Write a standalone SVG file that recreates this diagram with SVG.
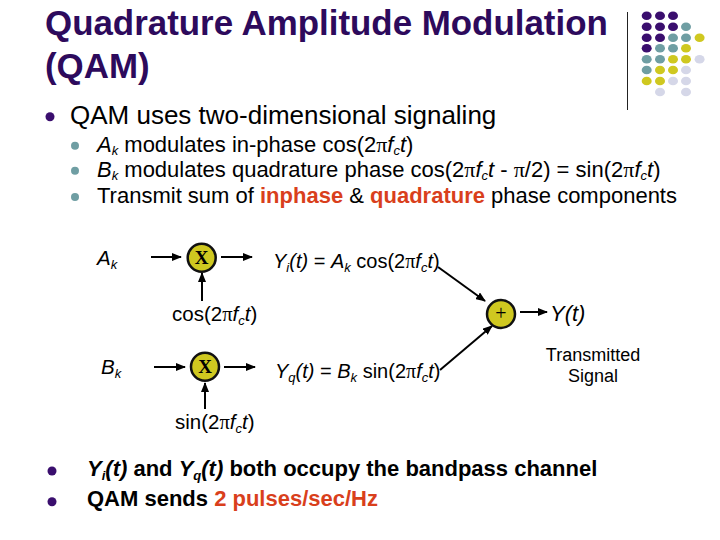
<svg xmlns="http://www.w3.org/2000/svg" width="720" height="540" viewBox="0 0 720 540">
<style>
text{font-family:"Liberation Sans",Arial,sans-serif;fill:#000}
.title{font-size:34.9px;font-weight:700;fill:#2d0a5c}
.l1{font-size:26px}
.l2{font-size:22px}
.d{font-size:20.5px}
.e{font-size:20px}
.b{font-size:22px;font-weight:700}
.r{fill:#d93f1c;font-weight:700}
.i{font-style:italic}
.p{font-family:"Liberation Serif",serif}
.s{font-size:13px;font-style:italic}
.pu{fill:#3a0e6e}.te{fill:#6f9ea3}.ye{fill:#cfc820}.la{fill:#d5d7e8}
.n{fill:#cfc820;stroke:#111;stroke-width:2.5}
.nx{font-family:"Liberation Serif",serif;font-size:19px;font-weight:700;text-anchor:middle}
.c{stroke:#000;stroke-width:2;fill:none;marker-end:url(#a)}
</style>
<defs>
<marker id="a" markerUnits="userSpaceOnUse" markerWidth="10" markerHeight="8" refX="9" refY="4" orient="auto"><path d="M0 0L10 4L0 8Z" fill="#000"/></marker>
</defs>
<rect width="720" height="540" fill="#fff"/>
<text class="title" x="45" y="35">Quadrature Amplitude Modulation</text>
<text class="title" x="45" y="78">(QAM)</text>
<path d="M627.5 12V110" stroke="#222" stroke-width="1"/>
<g id="dots">
<g class="pu"><ellipse cx="646.7" cy="15.7" rx="5" ry="4.3"/><ellipse cx="660" cy="15.7" rx="5" ry="4.3"/><ellipse cx="673" cy="15.7" rx="5" ry="4.3"/><ellipse cx="646.7" cy="26.7" rx="5" ry="4.3"/><ellipse cx="660" cy="26.7" rx="5" ry="4.3"/><ellipse cx="673" cy="26.7" rx="5" ry="4.3"/><ellipse cx="646.7" cy="37.7" rx="5" ry="4.3"/><ellipse cx="660" cy="37.7" rx="5" ry="4.3"/><ellipse cx="646.7" cy="48.3" rx="5" ry="4.3"/></g>
<g class="te"><ellipse cx="686" cy="26.7" rx="5" ry="4.3"/><ellipse cx="673" cy="37.7" rx="5" ry="4.3"/><ellipse cx="686" cy="37.7" rx="5" ry="4.3"/><ellipse cx="660" cy="48.3" rx="5" ry="4.3"/><ellipse cx="673" cy="48.3" rx="5" ry="4.3"/><ellipse cx="646.7" cy="59.3" rx="5" ry="4.3"/><ellipse cx="660" cy="59.3" rx="5" ry="4.3"/><ellipse cx="646.7" cy="70" rx="5" ry="4.3"/></g>
<g class="ye"><ellipse cx="699.6" cy="37.7" rx="5" ry="4.3"/><ellipse cx="686" cy="48.3" rx="5" ry="4.3"/><ellipse cx="673" cy="59.3" rx="5" ry="4.3"/><ellipse cx="686" cy="59.3" rx="5" ry="4.3"/><ellipse cx="660" cy="70" rx="5" ry="4.3"/><ellipse cx="673" cy="70" rx="5" ry="4.3"/><ellipse cx="646.7" cy="81" rx="5" ry="4.3"/><ellipse cx="660" cy="81" rx="5" ry="4.3"/></g>
<g class="la"><ellipse cx="699.6" cy="59.3" rx="5" ry="4.3"/><ellipse cx="686" cy="70" rx="5" ry="4.3"/><ellipse cx="673" cy="81" rx="5" ry="4.3"/><ellipse cx="686" cy="81" rx="5" ry="4.3"/><ellipse cx="660" cy="92" rx="5" ry="4.3"/><ellipse cx="686" cy="92" rx="5" ry="4.3"/></g>
</g>
<g id="bullets">
<circle class="pu" cx="50" cy="116.7" r="4.5"/>
<circle class="te" cx="75" cy="145.7" r="4"/><circle class="te" cx="75" cy="170.7" r="4"/><circle class="te" cx="75" cy="197" r="4"/>
<circle class="pu" cx="52" cy="471" r="4.5"/><circle class="pu" cx="52" cy="501.7" r="4.5"/>
</g>
<text class="l1" x="70" y="124">QAM uses two-dimensional signaling</text>
<text class="l2" x="97" y="152"><tspan class="i">A</tspan><tspan class="s" dy="3">k</tspan><tspan dy="-3"> modulates in-phase cos(2</tspan><tspan class="p">π</tspan><tspan class="i">f</tspan><tspan class="s" dy="3">c</tspan><tspan class="i" dy="-3">t</tspan>)</text>
<text class="l2" x="97" y="177"><tspan class="i">B</tspan><tspan class="s" dy="3">k</tspan><tspan dy="-3"> modulates quadrature phase cos(2</tspan><tspan class="p">π</tspan><tspan class="i">f</tspan><tspan class="s" dy="3">c</tspan><tspan class="i" dy="-3">t</tspan> - <tspan class="p">π</tspan>/2) = sin(2<tspan class="p">π</tspan><tspan class="i">f</tspan><tspan class="s" dy="3">c</tspan><tspan class="i" dy="-3">t</tspan>)</text>
<text class="l2" x="97" y="203">Transmit sum of <tspan class="r">inphase</tspan> &amp; <tspan class="r">quadrature</tspan> phase components</text>
<g id="connectors">
<path class="c" d="M151 257H181"/><path class="c" d="M221 257H252"/><path class="c" d="M202 301V273"/>
<path class="c" d="M154 367H185"/><path class="c" d="M224 367H255"/><path class="c" d="M205 409V383"/>
<path class="c" d="M438 267L485 301"/><path class="c" d="M440 370L492 326"/><path class="c" d="M520 312H547"/>
</g>
<g id="mul1"><circle class="n" cx="201.7" cy="257.7" r="14"/><text class="nx" x="201.7" y="264">X</text></g>
<g id="mul2"><circle class="n" cx="205" cy="366.7" r="14"/><text class="nx" x="205" y="373">X</text></g>
<g id="sum"><circle class="n" cx="501" cy="314" r="14"/><text class="p" x="501" y="320" text-anchor="middle" font-size="20">+</text></g>
<text class="d" x="97" y="265"><tspan class="i">A</tspan><tspan class="s" dy="4">k</tspan></text>
<text class="d" x="101" y="374"><tspan class="i">B</tspan><tspan class="s" dy="4">k</tspan></text>
<text class="e" x="273" y="268"><tspan class="i">Y</tspan><tspan class="s" dy="4">i</tspan><tspan class="i" dy="-4">(t)</tspan> = <tspan class="i">A</tspan><tspan class="s" dy="4">k</tspan><tspan dy="-4"> cos(2</tspan><tspan class="p">π</tspan><tspan class="i">f</tspan><tspan class="s" dy="4">c</tspan><tspan class="i" dy="-4">t</tspan>)</text>
<text class="e" x="275" y="378"><tspan class="i">Y</tspan><tspan class="s" dy="4">q</tspan><tspan class="i" dy="-4">(t)</tspan> = <tspan class="i">B</tspan><tspan class="s" dy="4">k</tspan><tspan dy="-4"> sin(2</tspan><tspan class="p">π</tspan><tspan class="i">f</tspan><tspan class="s" dy="4">c</tspan><tspan class="i" dy="-4">t</tspan>)</text>
<text class="d" x="172" y="321">cos(2<tspan class="p">π</tspan><tspan class="i">f</tspan><tspan class="s" dy="4">c</tspan><tspan class="i" dy="-4">t</tspan>)</text>
<text class="d" x="175" y="429">sin(2<tspan class="p">π</tspan><tspan class="i">f</tspan><tspan class="s" dy="4">c</tspan><tspan class="i" dy="-4">t</tspan>)</text>
<text class="i" font-size="22" x="550" y="321">Y(t)</text>
<text font-size="18" x="593" y="361" text-anchor="middle">Transmitted</text>
<text font-size="18" x="593" y="382" text-anchor="middle">Signal</text>
<text class="b" x="87" y="476"><tspan class="i">Y</tspan><tspan class="s" dy="4">i</tspan><tspan class="i" dy="-4">(t)</tspan> and <tspan class="i">Y</tspan><tspan class="s" dy="4">q</tspan><tspan class="i" dy="-4">(t)</tspan> both occupy the bandpass channel</text>
<text class="b" x="87" y="506">QAM sends <tspan class="r">2 pulses/sec/Hz</tspan></text>
</svg>
